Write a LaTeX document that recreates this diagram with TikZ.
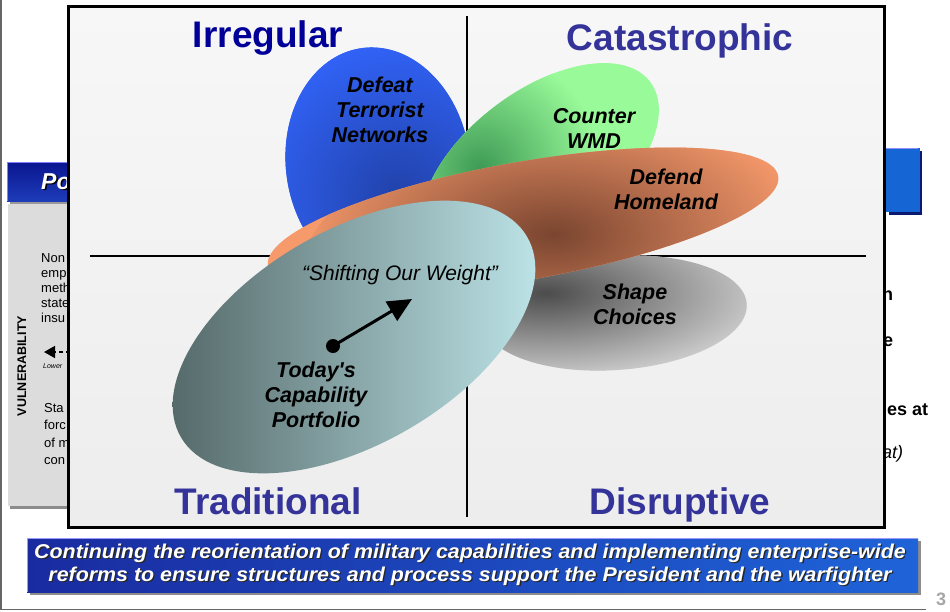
\documentclass[tikz,border=0pt]{standalone}
\usepackage{fontspec}
\setmainfont{Liberation Sans}
\usetikzlibrary{arrows.meta}
\definecolor{quadA}{HTML}{000099}
\definecolor{quadB}{HTML}{333399}
\definecolor{blueOut}{HTML}{3366FF}
\definecolor{blueIn}{HTML}{2142AA}
\definecolor{greenOut}{HTML}{99FA99}
\definecolor{greenIn}{HTML}{3E9A55}
\definecolor{orangeOut}{HTML}{F6996B}
\definecolor{orangeIn}{HTML}{7A4530}
\definecolor{grayOut}{HTML}{E2E2E2}
\definecolor{grayIn}{HTML}{4C4C4C}
\definecolor{tealL}{HTML}{566A6A}
\definecolor{tealR}{HTML}{BCE3E7}
\definecolor{boxTop}{HTML}{F7F7F7}
\definecolor{boxBot}{HTML}{EDEDED}
\definecolor{barL}{HTML}{1A2BA0}
\definecolor{barR}{HTML}{1F63D8}
\definecolor{panelGray}{HTML}{DCDCDC}
\definecolor{navyBar}{HTML}{0A1590}
\definecolor{navyBarB}{HTML}{1E3CB8}
\definecolor{rbar}{HTML}{1565D5}
\definecolor{rbarEdge}{HTML}{0A1A70}
\begin{document}
\begin{tikzpicture}[x=1pt,y=-1pt,
  quad/.style={font=\bfseries\fontsize{37}{40}\selectfont, anchor=base, inner sep=0pt},
  lbl/.style={font=\bfseries\itshape\fontsize{21.5}{25}\selectfont, align=center, inner sep=0pt},
  bartext/.style={font=\bfseries\itshape\fontsize{20}{22}\selectfont, anchor=base, inner sep=0pt},
  sidetext/.style={font=\bfseries\fontsize{18}{22}\selectfont, anchor=base west, inner sep=0pt},
  paneltext/.style={font=\fontsize{13}{15}\selectfont, anchor=base west, inner sep=0pt},
  quadline/.style={line width=2.5pt, black},
]
\useasboundingbox (0,0) rectangle (950,611);
\fill[white] (0,0) rectangle (950,611);
% slide frame
\draw[black!60, line width=1.5pt] (0.75,0) -- (0.75,609.5) -- (926,609.5);

% ---- background slide, left ----
\fill[black!40] (10,165) rectangle (71,204);
\shade[top color=navyBar, bottom color=navyBarB] (7,162) rectangle (68,201);
\draw[blue!50!white, line width=0.8pt] (7,201) -- (7,162) -- (68,162);
\node[font=\bfseries\itshape\fontsize{23}{24}\selectfont, text=black, anchor=base west, inner sep=0] (pos) at (42.5,190.5) {Po};
\node[font=\bfseries\itshape\fontsize{23}{24}\selectfont, text=white, anchor=base west, inner sep=0] (po) at (41,189) {Po};
\fill[black!45] (10,207) rectangle (71,509);
\fill[panelGray] (8,204) rectangle (68,506);
\node[paneltext] (t1) at (41,262) {Non};
\node[paneltext] (t2) at (41,277) {emp};
\node[paneltext] (t3) at (41,292) {meth};
\node[paneltext] (t4) at (41,307) {state};
\node[paneltext] (t5) at (41,322) {insu};
\node[paneltext] (t6) at (44,412) {Sta};
\node[paneltext] (t7) at (44,429.5) {forc};
\node[paneltext] (t8) at (44,447) {of m};
\node[paneltext] (t9) at (44,464.5) {con};
\node[font=\bfseries\fontsize{12.5}{14}\selectfont, rotate=90, inner sep=0] (vul) at (22,366) {VULNERABILITY};
\coordinate (la) at (44,352);
\coordinate (lb) at (70,352);
\draw[line width=1.6pt, dash pattern=on 4pt off 3pt, -{Triangle[length=11pt,width=12pt]}] (lb) -- (la);
\node[font=\itshape\fontsize{7}{8}\selectfont, anchor=base west, inner sep=0] (lower) at (43,368) {Lower};

% ---- background slide, right ----
\fill[rbarEdge] (889,151) rectangle (922,215);
\fill[rbar] (886,148) rectangle (920,212);
\draw[blue!45!white, line width=0.8pt] (880,148.5) -- (918,148.5);
\node[sidetext] (r1) at (882,300) {h};
\node[sidetext] (r2) at (883,346) {e};
\node[sidetext] (r3) at (887,415) {es at};
\node[font=\itshape\fontsize{18}{22}\selectfont, anchor=base west, inner sep=0] (r4) at (882,458) {at)};

% ---- main box ----
\shade[top color=boxTop, bottom color=boxBot] (68,6) rectangle (884.5,527);
\coordinate (vtop) at (467,16);
\coordinate (vbot) at (467,517);
\coordinate (hl) at (90,256);
\coordinate (hr) at (866,256);
\draw[quadline] (vtop) -- (vbot);
\draw[quadline] (hl) -- (hr);

% blue ellipse
\begin{scope}
\clip[rotate around={8:(378,165)}] (378,165) ellipse [x radius=92pt, y radius=118pt];
\fill[blueOut] (270,40) rectangle (490,300);
\shade[inner color=blueIn, outer color=blueOut] (398,195) circle (170pt);
\end{scope}
% green ellipse
\begin{scope}
\clip[rotate around={37:(540,165)}] (540,165) ellipse [x radius=138pt, y radius=74pt];
\fill[greenOut] (380,40) rectangle (700,300);
\shade[inner color=greenIn, outer color=greenOut] (480,168) circle (120pt);
\end{scope}
% gray ellipse
\begin{scope}
\clip[rotate around={4:(615,313)}] (615,313) ellipse [x radius=132pt, y radius=57pt];
\fill[grayOut] (470,240) rectangle (760,390);
\shade[inner color=grayIn, outer color=grayOut, shift={(545,293)}, xscale=2.6] (0,0) circle (100pt);
\end{scope}
% orange ellipse
\begin{scope}
\clip[rotate around={10:(523,221)}] (523,221) ellipse [x radius=259pt, y radius=59pt];
\fill[orangeOut] (260,140) rectangle (790,300);
\shade[inner color=orangeIn, outer color=orangeOut, shift={(553,234)}, rotate=10, xscale=2.2] (0,0) circle (115pt);
\end{scope}
% teal ellipse
\begin{scope}
\clip[rotate around={30:(354,337)}] (354,337) ellipse [x radius=200pt, y radius=107pt];
\shade[left color=tealL, right color=tealR] (172,195) rectangle (538,480);
\end{scope}

% arrow
\node[circle, fill=black, inner sep=0pt, minimum size=14pt] (dot) at (333,346) {};
\coordinate (tip) at (412,299);
\draw[line width=3pt, -{Triangle[length=24pt,width=22pt]}] (dot.center) -- (tip);

% labels
\node[quad, text=quadA] (irr) at (268,47) {Irregular};
\node[quad, text=quadB] (cat) at (680,50) {Catastrophic};
\node[quad, text=quadB] (trad) at (268,514) {Traditional};
\node[quad, text=quadB] (dis) at (680,514) {Disruptive};
\node[lbl] (dtn) at (380,110) {Defeat\\Terrorist\\Networks};
\node[lbl] (wmd) at (594,128) {Counter\\WMD};
\node[lbl] (home) at (666,189) {Defend\\Homeland};
\node[lbl] (shp) at (635,304) {Shape\\Choices};
\node[lbl] (today) at (316,395) {Today\textquotesingle s\\Capability\\Portfolio};
\node[font=\itshape\fontsize{21}{24}\selectfont, inner sep=0] (sow) at (400,275) {“Shifting Our Weight”};

\draw[black, line width=3pt] (68,6) rectangle (884.5,527);

% bottom bar
\fill[black!45] (30,541) rectangle (921,595);
\shade[left color=barL, right color=barR] (27,538) rectangle (918,592);
\draw[blue!40!white, line width=0.8pt] (27,592) -- (27,538) -- (918,538);
\node[bartext, text=black!85] (b1s) at (471.3,559.3) {\scalebox{1.07}[1]{Continuing the reorientation of military capabilities and implementing enterprise-wide}};
\node[bartext, text=black!85] (b2s) at (471.3,582.3) {\scalebox{1.07}[1]{reforms to ensure structures and process support the President and the warfighter}};
\node[bartext, text=white] (b1) at (470,558) {\scalebox{1.07}[1]{Continuing the reorientation of military capabilities and implementing enterprise-wide}};
\node[bartext, text=white] (b2) at (470,581) {\scalebox{1.07}[1]{reforms to ensure structures and process support the President and the warfighter}};

\node[font=\bfseries\fontsize{18}{20}\selectfont, text=black!35, anchor=base] (pg) at (941,605) {3};
\end{tikzpicture}
\end{document}
